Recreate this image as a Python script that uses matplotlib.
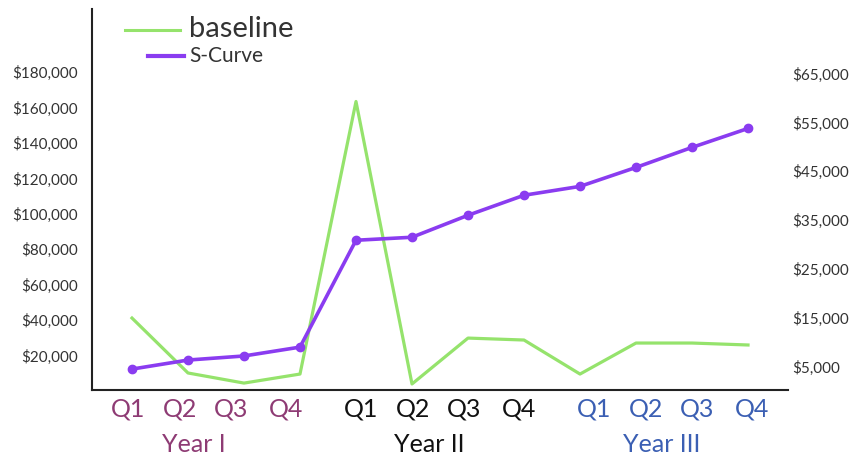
import matplotlib.pyplot as plt
from matplotlib.lines import Line2D
from matplotlib.transforms import blended_transform_factory

plt.rcParams['font.family'] = ['Lato', 'DejaVu Sans']

quarters = ['Q1', 'Q2', 'Q3', 'Q4'] * 3
years = ['Year I', 'Year II', 'Year III']
year_colors = ['#8e3b74', '#111111', '#3b5fb3']
baseline = [40600, 9600, 3900, 9000, 162800, 3400, 29300, 28200, 9000, 26500, 26500, 25400]
scurve = [11800, 16900, 19200, 24200, 84500, 86200, 98600, 109900, 114900, 125600, 136900, 147600]
left_ticks = [20000, 40000, 60000, 80000, 100000, 120000, 140000, 160000, 180000]
right_ticks = [5000, 15000, 25000, 35000, 45000, 55000, 65000]

green = '#95e36c'
purple = '#8a3cf0'

# labels in the picture sit a bit off the data points
label_pos = [-0.07, 0.86, 1.77, 2.75, 4.09, 5.02, 5.93, 6.91, 8.25, 9.18, 10.09, 11.07]
year_pos = [1.1, 5.3, 9.45]

W, H = 856, 456
fig = plt.figure(figsize=(W / 100, H / 100), dpi=100)
ax = fig.add_axes([92 / W, 65 / H, 696 / W, 381 / H])
x = list(range(len(scurve)))

ax.plot(x, baseline, color=green, lw=2.3)
ax.plot(x, scurve, color=purple, lw=2.6, marker='o', ms=6)

ax.set_xlim(-0.714, 11.714)
ax.set_ylim(0, 215000)
ax.spines['top'].set_visible(False)
ax.spines['right'].set_visible(False)
ax.spines['left'].set_color('#222222')
ax.spines['bottom'].set_color('#222222')
ax.spines['left'].set_linewidth(1.5)
ax.spines['bottom'].set_linewidth(1.5)

ax.set_yticks(left_ticks)
ax.set_yticklabels(['${:,}'.format(v) for v in left_ticks], fontsize=11, color='#333333')
ax.tick_params(axis='y', length=0, pad=10)

ax.set_xticks(label_pos)
ax.set_xticklabels(quarters, fontsize=18)
ax.tick_params(axis='x', length=0, pad=5)
for i, lab in enumerate(ax.get_xticklabels()):
    lab.set_color(year_colors[i // 4])

trans = blended_transform_factory(ax.transData, ax.transAxes)
for pos, name, col in zip(year_pos, years, year_colors):
    ax.text(pos, -0.14, name, transform=trans, ha='center', va='center', fontsize=18,
            color=col)

ax2 = ax.twinx()
ax2.set_ylim(0, 78000)
for s in ax2.spines.values():
    s.set_visible(False)
ax2.set_yticks(right_ticks)
ax2.set_yticklabels(['${:,}'.format(v) for v in right_ticks], fontsize=11, color='#333333')
ax2.tick_params(axis='y', length=0, pad=3)

# hand-placed legend, as in the picture
fig.add_artist(Line2D([125 / W, 180 / W], [1 - 31 / H, 1 - 31 / H], color=green, lw=2.2))
fig.add_artist(Line2D([148 / W, 184 / W], [1 - 57 / H, 1 - 57 / H], color=purple, lw=3))
fig.text(189 / W, 1 - 29 / H, 'baseline', fontsize=21, color='#333333', va='center')
fig.text(189 / W, 1 - 56 / H, 'S-Curve', fontsize=15, color='#333333', va='center')

fig.savefig('out.png', dpi=100)
